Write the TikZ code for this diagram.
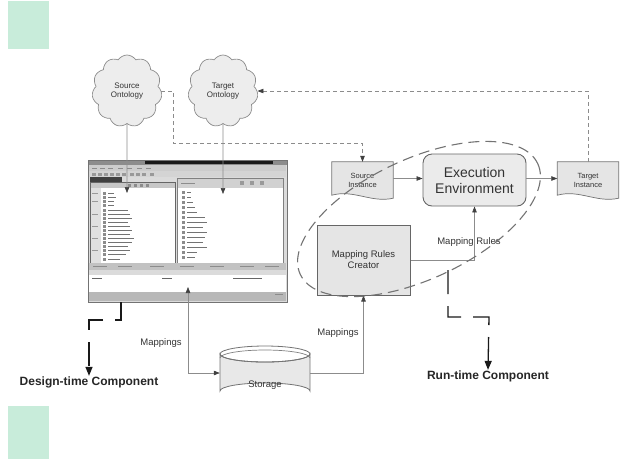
\documentclass[tikz,border=0pt]{standalone}
\usepackage{fontspec}
\setmainfont{Liberation Sans}
\usetikzlibrary{shapes.symbols,arrows.meta}

\definecolor{mint}{RGB}{200,236,218}

\begin{document}
\begin{tikzpicture}[x=1pt,y=-1pt,
  every node/.style={align=center, text=black!80, font=\fontsize{8}{9}\selectfont},
  cloudbox/.style={cloud, cloud puffs=11, cloud puff arc=115, aspect=1,
    draw=black!45, fill=black!7, line width=0.7pt,
    minimum width=70pt, minimum height=72pt, inner sep=0pt},
  docbox/.style={minimum width=61pt, minimum height=33pt, inner sep=0pt,
    font=\fontsize{7.5}{8.5}\selectfont},
  execbox/.style={draw=black!60, fill=black!8, line width=0.9pt, rounded corners=9pt,
    minimum width=103pt, minimum height=52pt, inner sep=0pt,
    font=\fontsize{14}{16}\selectfont},
  rulebox/.style={draw=black!60, fill=black!10, line width=1pt,
    minimum width=93pt, minimum height=70pt, inner sep=0pt,
    font=\fontsize{9.5}{11}\selectfont},
  lbl/.style={font=\fontsize{9.5}{11}\selectfont},
  biglbl/.style={font=\bfseries\fontsize{12}{14}\selectfont, text=black!85},
  conn/.style={draw=black!45, line width=0.6pt},
  dconn/.style={draw=black!45, line width=0.6pt, dash pattern=on 4pt off 3pt},
  tip/.style={-{Triangle[length=6pt,width=4.5pt,color=black!75]}},
  bitip/.style={{Triangle[length=6pt,width=4.5pt,color=black!75]}-{Triangle[length=6pt,width=4.5pt,color=black!75]}},
  bracket/.style={draw=black!90, line width=1.3pt, dash pattern=on 24pt off 12pt,
    -{Triangle[length=9pt,width=7pt]}},
  gline/.style={draw=black!55, line width=0.8pt},
]
\useasboundingbox (0,0) rectangle (631,459);

% corner tabs
\fill[mint] (8,1) rectangle (49,49);
\fill[mint] (8,406) rectangle (49,459);

% ontologies
\node[cloudbox] (srcont) at (127,91) {Source\\Ontology};
\node[cloudbox] (tgtont) at (223,91) {Target\\Ontology};

% ---------- mapping tool window ----------
\node[draw=black!55, line width=1pt, fill=black!14, minimum width=199pt,
      minimum height=142pt, inner sep=0pt] (gui) at (187.5,231) {};
\fill[black!45] (88.5,160.5) rectangle (286.5,165);
\fill[black!90] (145,160.5) rectangle (273,164);
\fill[black!20] (89,165) rectangle (286,171);
\foreach \x in {92,100,108,118,127,137,146} \draw[black!45,line width=0.6pt] (\x,168) -- ++(5,0);
\fill[black!17] (89,171) rectangle (286,177);
\foreach \x in {92,98,104,110,116,122,130,136,142,150} \fill[black!40] (\x,172.5) rectangle ++(3.5,3);
\fill[black!75] (90,177) rectangle (122,182);
% left tree panel
\draw[black!60, fill=white, line width=0.7pt] (90,182) rectangle (175,263);
\fill[black!22] (90.5,182.5) rectangle (174.5,188);
\foreach \x in {128,134,140,146} \fill[black!45] (\x,183.5) rectangle ++(3,3);
\fill[black!12] (90.5,188) rectangle (101,262.5);
\foreach \y/\l in {193/6,197/8,201/6,205/6,210/20,214/22,218/24,222/20,226/22,230/24,234/22,238/26,242/24,246/20,250/22,254/18,259/12}
  {\fill[black!45] (103,\y-1) rectangle ++(3,2.5);
   \draw[black!55, line width=0.8pt] (108,\y) -- ++(\l,0);}
\foreach \y in {193,201,214,226,238,250} \draw[black!40] (92,\y) -- ++(6,0);
% right tree panel
\draw[black!50, fill=white, line width=0.7pt] (177,178) rectangle (283,263);
\fill[black!18] (177.5,178.5) rectangle (282.5,188);
\foreach \x in {240,250,260} \fill[black!40] (\x,181) rectangle ++(4,4);
\draw[black!45] (181,183) -- ++(14,0);
\foreach \y/\l in {192/4,197/4,202/6,207/8,212/10,217/18,222/20,227/16,232/20,237/18,242/16,247/20,252/10,257/8}
  {\fill[black!45] (182,\y-1) rectangle ++(3,2.5);
   \draw[black!55, line width=0.8pt] (187,\y) -- ++(\l,0);}
% lower tabs, table and status bar
\fill[black!24] (89,263) rectangle (286,270);
\foreach \x in {93,118,150,180,210,240,265} \draw[black!45] (\x,266.5) -- ++(14,0);
\fill[white] (89,270) rectangle (286,292);
\fill[black!14] (89,270) rectangle (286,275);
\draw[black!60,line width=0.8pt] (92,278) -- ++(10,0);
\draw[black!60,line width=0.8pt] (162,278) -- ++(10,0);
\draw[black!60,line width=0.8pt] (233,278) -- ++(29,0);
\fill[black!28] (89,292) rectangle (286,300.5);
\draw[black!45] (275,294) -- ++(8,0);

% ---------- run-time side ----------
\node[docbox] (srcinst) at (362.5,178.5) {};
\draw[draw=black!55, fill=black!10, line width=0.7pt]
  (srcinst.north west) -- (srcinst.north east) -- ([yshift=-3pt]srcinst.south east)
  .. controls ([xshift=-22pt,yshift=-8pt]srcinst.south east) and ([xshift=22pt,yshift=6pt]srcinst.south west) .. (srcinst.south west) -- cycle;
\node[docbox] at ([yshift=-2pt]srcinst.center) {Source\\Instance};

\node[docbox] (tgtinst) at (588,178.5) {};
\draw[draw=black!55, fill=black!10, line width=0.7pt]
  (tgtinst.north west) -- (tgtinst.north east) -- ([yshift=-3pt]tgtinst.south east)
  .. controls ([xshift=-22pt,yshift=-8pt]tgtinst.south east) and ([xshift=22pt,yshift=6pt]tgtinst.south west) .. (tgtinst.south west) -- cycle;
\node[docbox] at ([yshift=-2pt]tgtinst.center) {Target\\Instance};

\node[execbox] (exec) at (474.5,180) {Execution\\Environment};
\node[rulebox] (mrc) at (363.5,260) {Mapping Rules\\Creator};

% storage cylinder
\node[minimum width=90pt, minimum height=54pt, inner sep=0pt] (storage) at (265,373) {};
\draw[draw=black!55, fill=black!9, line width=0.8pt]
  (220,354) -- (220,391) arc[start angle=180, end angle=360, x radius=45, y radius=8]
  -- (310,354) arc[start angle=0, end angle=180, x radius=45, y radius=8] -- cycle;
\draw[draw=black!55, line width=0.8pt] (265,354) ellipse[x radius=45, y radius=8];
\draw[draw=black!50, line width=0.7pt] (220,358) arc[start angle=180, end angle=360, x radius=45, y radius=8];
\node[lbl] at (265,385) {Storage};

% ---------- connectors ----------
\coordinate (srcin) at (127,193);
\coordinate (tgtin) at (223,194);
\coordinate (guiout) at (188,287);
\draw[conn,tip] (srcont.south) -- (srcin);
\draw[conn,tip] (tgtont.south) -- (tgtin);
\draw[dconn,tip] (srcont.east) -| (173,143) -| (srcinst.north);
\draw[dconn,tip] (tgtinst.north) |- (tgtont.east);
\draw[conn,tip] (srcinst.east) -- (srcinst.east -| exec.west);
\draw[conn,tip] (exec.east |- tgtinst.west) -- (tgtinst.west);
\draw[conn,tip] (mrc.east) -| (exec.south);
\node[lbl] at (469,242) {Mapping Rules};
\draw[conn,bitip] (guiout) |- (storage.west);
\node[lbl] at (161,343) {Mappings};
\draw[conn,tip] (storage.east) -| (mrc.south);
\node[lbl] at (338,333) {Mappings};

% run-time boundary
\draw[draw=black!55, line width=1.1pt, dash pattern=on 11pt off 6pt, shift={(419,219)}, rotate=25]
  (0,0) ellipse[x radius=131, y radius=60];

% component pointers
\node[biglbl] (dtlabel) at (89,382) {Design-time Component};
\node[biglbl] (rtlabel) at (488,376) {Run-time Component};
\coordinate (dtA) at (121,302);
\coordinate (rtA) at (448,270);
\draw[bracket] (dtA) |- (89,320) -- ([yshift=-3pt]dtlabel.north);
\draw[bracket] (rtA) |- (489,317) -- ([yshift=-3pt]rtlabel.north);
\end{tikzpicture}
\end{document}
